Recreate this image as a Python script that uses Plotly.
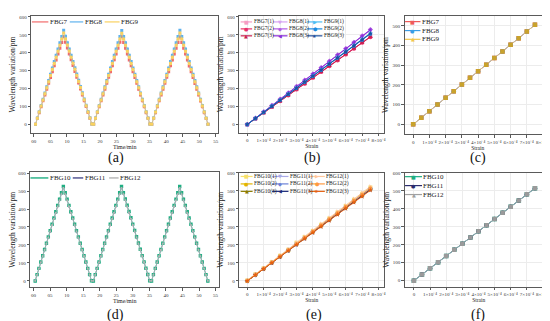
import plotly.graph_objects as go

SERIF = "Liberation Serif"
GLYPH = "DejaVu Sans"
W, H = 550, 321

# ---------------- data ----------------
time_min = [0.50, 1.07, 1.63, 2.20, 2.77, 3.34, 3.90, 4.47, 5.04, 5.60, 6.17, 6.74, 7.30, 7.87, 8.44, 9.01,
            9.57, 10.14, 10.71, 11.27, 11.84, 12.41, 12.97, 13.54, 14.11, 14.68, 15.24, 15.81, 16.38, 16.94, 17.51,
            18.08, 18.64, 19.21, 19.78, 20.35, 20.91, 21.48, 22.05, 22.61, 23.18, 23.75, 24.31, 24.88, 25.45, 26.02, 26.58,
            27.15, 27.72, 28.28, 28.85, 29.42, 29.98, 30.55, 31.12, 31.69, 32.25, 32.82, 33.39, 33.95, 34.52, 35.09,
            35.65, 36.22, 36.79, 37.36, 37.92, 38.49, 39.06, 39.62, 40.19, 40.76, 41.32, 41.89, 42.46, 43.03, 43.59, 44.16,
            44.73, 45.29, 45.86, 46.43, 46.99, 47.56, 48.13, 48.70, 49.26, 49.83, 50.40, 50.96, 51.53, 52.10, 52.66]

fbg7_time = [0, 33, 65, 98, 131, 163, 196, 229, 261, 294, 327, 359, 392, 425, 457, 490,
             458, 426, 393, 360, 328, 295, 262, 230, 197, 164, 132, 99, 66, 34, 2,
             0, 33, 66, 98, 131, 164, 196, 229, 262, 294, 327, 360, 392, 425, 458, 490,
             457, 425, 392, 359, 327, 294, 261, 229, 196, 163, 131, 98, 65, 33, 1,
             0, 33, 65, 98, 131, 163, 196, 229, 262, 294, 327, 359, 392, 425, 457, 489,
             457, 424, 392, 359, 326, 294, 261, 228, 196, 163, 130, 98, 65, 32, 0]
fbg8_time = [0, 35, 70, 105, 140, 175, 210, 245, 280, 315, 350, 385, 420, 455, 490, 525,
             491, 456, 421, 386, 351, 316, 281, 246, 211, 176, 141, 106, 71, 36, 2,
             0, 35, 70, 105, 140, 175, 210, 245, 280, 315, 350, 385, 420, 455, 490, 524,
             490, 455, 420, 385, 350, 315, 280, 245, 210, 175, 140, 105, 70, 35, 1,
             0, 35, 70, 105, 140, 175, 210, 245, 280, 315, 350, 385, 420, 455, 490, 525,
             490, 455, 420, 385, 350, 315, 280, 245, 210, 175, 140, 105, 70, 35, 0]
fbg9_time = [0, 34, 68, 102, 136, 170, 204, 238, 272, 306, 340, 374, 408, 442, 476, 510,
             477, 443, 409, 375, 341, 307, 273, 239, 205, 171, 137, 103, 69, 35, 2,
             0, 34, 68, 102, 136, 170, 204, 238, 272, 306, 340, 374, 408, 442, 476, 509,
             476, 442, 408, 374, 340, 306, 272, 238, 204, 170, 136, 102, 68, 34, 1,
             0, 34, 68, 102, 136, 170, 204, 238, 272, 306, 340, 374, 408, 442, 476, 510,
             476, 442, 408, 374, 340, 306, 272, 238, 204, 170, 136, 102, 68, 34, 0]
fbg10_time = [0, 35, 70, 105, 140, 175, 210, 245, 280, 315, 350, 385, 420, 455, 490, 525,
              490, 455, 420, 385, 350, 315, 280, 245, 210, 175, 140, 105, 70, 35, 1,
              0, 35, 70, 105, 140, 175, 210, 245, 280, 315, 350, 385, 420, 455, 490, 526,
              491, 456, 421, 386, 351, 316, 281, 246, 211, 176, 141, 106, 71, 36, 1,
              0, 35, 70, 105, 140, 175, 210, 245, 280, 315, 350, 385, 420, 455, 490, 525,
              490, 455, 420, 385, 350, 315, 280, 245, 210, 175, 140, 105, 70, 35, 0]
fbg11_time = [0, 35, 69, 104, 139, 173, 208, 243, 277, 312, 347, 381, 416, 451, 485, 520,
              485, 451, 416, 381, 347, 312, 277, 243, 208, 173, 139, 104, 69, 35, 1,
              0, 35, 69, 104, 139, 173, 208, 243, 277, 312, 347, 381, 416, 451, 485, 520,
              486, 451, 417, 382, 347, 313, 278, 243, 208, 174, 139, 104, 70, 35, 1,
              0, 35, 69, 104, 139, 173, 208, 243, 277, 312, 347, 381, 416, 451, 485, 519,
              485, 451, 416, 381, 347, 312, 277, 243, 208, 173, 139, 104, 69, 35, 0]
fbg12_time = [0, 34, 69, 103, 138, 172, 207, 241, 276, 310, 345, 379, 414, 448, 483, 517,
              483, 448, 414, 379, 345, 310, 276, 241, 207, 172, 138, 103, 69, 34, 1,
              0, 34, 69, 103, 138, 172, 207, 241, 276, 310, 345, 379, 414, 448, 483, 517,
              483, 449, 414, 380, 345, 311, 276, 242, 207, 173, 138, 104, 69, 35, 1,
              0, 34, 69, 103, 138, 172, 207, 241, 276, 310, 345, 379, 414, 448, 483, 517,
              483, 448, 414, 379, 345, 310, 276, 241, 207, 172, 138, 103, 69, 34, 0]

strain_e4 = [0, 0.5, 1, 1.5, 2, 2.5, 3, 3.5, 4, 4.5, 5, 5.5, 6, 6.5, 7, 7.5]

fbg7_1 = [0, 33, 66, 98, 131, 164, 196, 229, 262, 294, 327, 360, 392, 425, 458, 490]
fbg7_2 = [0, 32, 65, 97, 130, 162, 195, 227, 260, 292, 325, 357, 390, 422, 455, 487]
fbg7_3 = [0, 33, 65, 98, 130, 163, 196, 228, 261, 293, 326, 358, 391, 424, 456, 489]
fbg8_1 = [0, 35, 70, 105, 140, 175, 210, 245, 280, 315, 350, 385, 420, 455, 490, 525]
fbg8_2 = [0, 35, 71, 106, 141, 176, 212, 247, 282, 317, 353, 388, 423, 458, 494, 529]
fbg8_3 = [0, 35, 70, 105, 141, 176, 211, 246, 281, 316, 351, 387, 422, 457, 492, 527]
fbg9_1 = [0, 34, 68, 102, 136, 170, 204, 238, 272, 306, 340, 374, 408, 442, 476, 510]
fbg9_2 = [0, 34, 67, 101, 135, 168, 202, 236, 269, 303, 337, 370, 404, 438, 471, 505]
fbg9_3 = [0, 34, 68, 101, 135, 169, 203, 237, 270, 304, 338, 372, 406, 439, 473, 507]

fbg10_1 = [3, 37, 71, 106, 140, 174, 212, 244, 278, 313, 347, 381, 416, 451, 485, 520]
fbg10_2 = [0, 34, 68, 102, 136, 170, 205, 239, 273, 307, 341, 375, 409, 444, 478, 512]
fbg10_3 = [0, 33, 67, 101, 135, 169, 203, 237, 271, 305, 339, 373, 407, 441, 475, 509]
fbg11_1 = [2, 36, 70, 104, 138, 172, 208, 242, 276, 310, 344, 378, 412, 447, 481, 516]
fbg11_2 = [0, 34, 68, 102, 137, 171, 205, 239, 274, 308, 342, 376, 411, 445, 479, 513]
fbg11_3 = [0, 34, 67, 101, 135, 169, 203, 236, 270, 304, 338, 372, 405, 439, 473, 507]
fbg12_1 = [4, 38, 72, 107, 141, 176, 214, 247, 282, 318, 351, 386, 420, 456, 490, 525]
fbg12_2 = [0, 35, 69, 103, 138, 172, 206, 240, 275, 310, 344, 378, 413, 447, 481, 515]
fbg12_3 = [0, 33, 67, 100, 134, 168, 201, 235, 269, 302, 336, 369, 403, 437, 470, 504]

fbg7_c = [0, 34, 67, 101, 135, 168, 202, 236, 269, 303, 337, 370, 404, 437, 471, 505]
fbg8_c = [0, 34, 67, 101, 135, 168, 202, 236, 269, 303, 337, 370, 404, 437, 471, 505]
fbg9_c = [0, 34, 67, 101, 135, 168, 202, 236, 269, 303, 337, 370, 404, 437, 471, 505]
fbg10_f = [0, 34, 69, 103, 137, 172, 206, 240, 275, 309, 343, 378, 412, 446, 481, 515]
fbg11_f = [0, 34, 69, 103, 137, 172, 206, 240, 275, 309, 343, 378, 412, 446, 481, 515]
fbg12_f = [0, 34, 69, 103, 137, 172, 206, 240, 275, 309, 343, 378, 412, 446, 481, 515]

time_ticks = [0, 5, 10, 15, 20, 25, 30, 35, 40, 45, 50, 55]
time_ticktext = ["00", "05", "10", "15", "20", "25", "30", "35", "40", "45", "50", "55"]
strain_ticks = [0, 1, 2, 3, 4, 5, 6, 7, 8]
strain_ticktext = ["0", "1×10⁻⁴", "2×10⁻⁴", "3×10⁻⁴", "4×10⁻⁴", "5×10⁻⁴", "6×10⁻⁴", "7×10⁻⁴", "8×10⁻⁴"]
wl_ticks = [0, 100, 200, 300, 400, 500, 600]

names_a = ["FBG7", "FBG8", "FBG9"]
names_d = ["FBG10", "FBG11", "FBG12"]
names_b = ["FBG7(1)", "FBG7(2)", "FBG7(3)", "FBG8(1)", "FBG8(2)", "FBG8(3)", "FBG9(1)", "FBG9(2)", "FBG9(3)"]
names_e = ["FBG10(1)", "FBG10(2)", "FBG10(3)", "FBG11(1)", "FBG11(2)", "FBG11(3)", "FBG12(1)", "FBG12(2)", "FBG12(3)"]

# ---------------- styles ----------------
col_a = ["#f26b6b", "#5fb2ee", "#f9d160"]
col_d = ["#1fae82", "#4a4c8c", "#b4b4b4"]
col_b = ["#f59cc4", "#e8306a", "#c81d4e", "#d7a2f2", "#b25be3", "#8a2fd8", "#4dbdf2", "#1b8be0", "#1f4f9c"]
col_e = ["#f7e06a", "#e2b400", "#8a7a00", "#a9a9e6", "#6b80d6", "#1d2a7a", "#ffc79c", "#ff9a40", "#e5600f"]
sym9 = ["square", "circle", "triangle-up", "triangle-down", "diamond", "triangle-left", "triangle-right", "hexagon", "star"]
glyph9 = ["■", "●", "▲", "▼", "◆", "◀", "▶", "⬢", "★"]


def px(x):
    return x / W


def py(y):
    return 1 - y / H


fig = go.Figure()

# panel (a)
for nm, vals, c in zip(names_a, [fbg7_time, fbg8_time, fbg9_time], col_a):
    fig.add_trace(go.Scatter(x=time_min, y=vals, name=nm, mode="lines+markers",
                             line=dict(color=c, width=0.6), marker=dict(symbol="square", size=3, color=c),
                             xaxis="x", yaxis="y", showlegend=False))
# panel (b)
for nm, vals, c, s in zip(names_b, [fbg7_1, fbg7_2, fbg7_3, fbg8_1, fbg8_2, fbg8_3, fbg9_1, fbg9_2, fbg9_3], col_b, sym9):
    fig.add_trace(go.Scatter(x=strain_e4, y=vals, name=nm, mode="lines+markers",
                             line=dict(color=c, width=1), marker=dict(symbol=s, size=4, color=c),
                             xaxis="x2", yaxis="y2", showlegend=False))
# panel (c)
for nm, vals, c, s, sz in zip(names_a, [fbg7_c, fbg8_c, fbg9_c], ["#ef5a5a", "#3b9de6", "#c9a22c"],
                              ["square", "circle", "square"], [4.5, 4.5, 4.5]):
    fig.add_trace(go.Scatter(x=strain_e4, y=vals, name=nm, mode="lines+markers",
                             line=dict(color="#f3c87a" if nm == "FBG9" else c, width=0.8),
                             marker=dict(symbol=s, size=sz, color=c),
                             xaxis="x3", yaxis="y3", showlegend=False))
# panel (d): FBG11 drawn first, then FBG10 markers, FBG12 grey line on top
for nm, vals, c, s, sz, lw in [("FBG11", fbg11_time, col_d[1], "circle", 2.6, 0.5),
                               ("FBG10", fbg10_time, col_d[0], "square", 3.4, 0.5),
                               ("FBG12", fbg12_time, col_d[2], "square", 1.8, 0.7)]:
    fig.add_trace(go.Scatter(x=time_min, y=vals, name=nm, mode="lines+markers",
                             line=dict(color=c, width=lw), marker=dict(symbol=s, size=sz, color=c),
                             xaxis="x4", yaxis="y4", showlegend=False))
# panel (e)
for nm, vals, c, s in zip(names_e, [fbg10_1, fbg10_2, fbg10_3, fbg11_1, fbg11_2, fbg11_3, fbg12_1, fbg12_2, fbg12_3], col_e, sym9):
    fig.add_trace(go.Scatter(x=strain_e4, y=vals, name=nm, mode="lines+markers",
                             line=dict(color=c, width=1), marker=dict(symbol=s, size=4, color=c),
                             xaxis="x5", yaxis="y5", showlegend=False))
# panel (f)
for nm, vals, c, s, sz in zip(names_d, [fbg10_f, fbg11_f, fbg12_f], ["#1fae82", "#2b2d6e", "#9a9a9a"],
                              ["square", "circle", "square"], [4.5, 4.5, 4.5]):
    fig.add_trace(go.Scatter(x=strain_e4, y=vals, name=nm, mode="lines+markers",
                             line=dict(color="#a9c4bd" if nm == "FBG12" else c, width=0.8),
                             marker=dict(symbol=s, size=sz, color=c),
                             xaxis="x6", yaxis="y6", showlegend=False))

# ---------------- axes ----------------
panels = [
    # id, (x0, x1, ytop, ybottom), xrange, yrange, kind, grid
    ("", (23.3, 211.0, 6.0, 124.0), [-0.8, 55.75], [-50, 605], "time", False),
    ("2", (232.0, 377.7, 6.0, 123.5), [-0.49, 8.35], [-46, 605], "strain", True),
    ("3", (398.0, 545.0, 6.0, 125.0), [-0.53, 8.49], [-50, 550], "strain", True),
    ("4", (22.3, 212.0, 163.5, 279.0), [-1.0, 56.1], [-35, 603], "time", False),
    ("5", (232.0, 377.7, 164.0, 278.3), [-0.49, 8.35], [-31, 600], "strain", True),
    ("6", (398.3, 546.7, 164.0, 278.3), [-0.56, 8.6], [-33, 600], "strain", True),
]

common = dict(showline=True, mirror=True, linecolor="#5a5a5a", linewidth=1, ticks="outside",
              ticklen=2.5, tickwidth=0.8, tickcolor="#5a5a5a", zeroline=False, tickangle=0,
              tickfont=dict(family=SERIF, size=5, color="#333333"), gridcolor="#ececec", gridwidth=0.6)

layout = {}
for pid, (x0, x1, yt, yb), xr, yr, kind, grid in panels:
    xa = dict(common, domain=[px(x0), px(x1)], range=xr, anchor="y" + pid, showgrid=grid)
    ya = dict(common, domain=[py(yb), py(yt)], range=yr, anchor="x" + pid, showgrid=grid,
              tickvals=wl_ticks,
              title=dict(text="Wavelength variation/pm", font=dict(family=SERIF, size=7.5, color="#222"), standoff=2))
    if kind == "time":
        xa.update(tickvals=time_ticks, ticktext=time_ticktext,
                  title=dict(text="Time/min", font=dict(family=SERIF, size=6, color="#222"), standoff=0))
    else:
        xa.update(tickvals=strain_ticks, ticktext=strain_ticktext,
                  title=dict(text="Strain", font=dict(family=SERIF, size=5.5, color="#222"), standoff=0))
    layout["xaxis" + pid] = xa
    layout["yaxis" + pid] = ya

fig.update_layout(**layout)

# ---------------- legends (drawn as line swatches + text) ----------------
shapes = []
annotations = []


def legend_entry(x0, x1, y, color, glyph, text, fsize, gsize, lw=1.2):
    shapes.append(dict(type="line", xref="paper", yref="paper", x0=px(x0), x1=px(x1), y0=py(y), y1=py(y),
                       line=dict(color=color, width=lw)))
    if glyph:
        annotations.append(dict(xref="paper", yref="paper", x=px((x0 + x1) / 2), y=py(y), text=glyph,
                                showarrow=False, xanchor="center", yanchor="middle",
                                font=dict(family=GLYPH, size=gsize, color=color), borderpad=0))
    annotations.append(dict(xref="paper", yref="paper", x=px(x1 + 0.5), y=py(y), text=text, showarrow=False,
                            xanchor="left", yanchor="middle", font=dict(family=SERIF, size=fsize, color="#222"),
                            borderpad=0))


# (a)
for (x0, x1), nm, c in zip([(24, 40.5), (62, 75.5), (97, 112)], names_a, col_a):
    legend_entry(x0, x1, 12, c, None, nm, 7, 6)
# (d)
for (x0, x1), nm, c in zip([(22.5, 40.5), (65, 75.5), (101.5, 111)], names_d, col_d):
    legend_entry(x0, x1, 169, c, None, nm, 7, 6, lw=1.4)
# (b)
cols_b = [(233.5, 245), (266, 280.5), (300, 315.5)]
rows_b = [12, 19, 26]
for i, (nm, c, g) in enumerate(zip(names_b, col_b, glyph9)):
    x0, x1 = cols_b[i // 3]
    legend_entry(x0, x1, rows_b[i % 3], c, g, nm, 5.5, 5)
# (e)
cols_e = [(233.5, 245.5), (265, 281.5), (301.5, 318)]
rows_e = [167.5, 175, 182.5]
for i, (nm, c, g) in enumerate(zip(names_e, col_e, glyph9)):
    x0, x1 = cols_e[i // 3]
    legend_entry(x0, x1, rows_e[i % 3], c, g, nm, 5.5, 5)
# (c)
for y, nm, c, g in zip([11.7, 20.7, 29.5], names_a, ["#ef5a5a", "#3b9de6", "#f2c64a"], ["■", "●", "▲"]):
    legend_entry(398.5, 414, y, c, g, nm, 7, 5)
# (f)
for y, nm, c, g in zip([167.7, 176.7, 185.7], names_d, ["#1fae82", "#2b2d6e", "#a0a0a0"], ["■", "●", "▲"]):
    legend_entry(398.5, 415.5, y, c, g, nm, 7, 5)

# panel labels
for lbl, x, y in [("(a)", 108, 149), ("(b)", 306, 149), ("(c)", 472, 149),
                  ("(d)", 108, 307), ("(e)", 307, 307), ("(f)", 472, 307)]:
    annotations.append(dict(xref="paper", yref="paper", x=px(x), y=py(y), text=lbl, showarrow=False,
                            xanchor="center", yanchor="middle", borderpad=0,
                            font=dict(family=SERIF, size=14, color="#111")))

fig.update_layout(width=W, height=H, margin=dict(l=0, r=0, t=0, b=0), paper_bgcolor="white",
                  plot_bgcolor="white", showlegend=False, shapes=shapes, annotations=annotations,
                  font=dict(family=SERIF))

fig.write_html("out.html")
